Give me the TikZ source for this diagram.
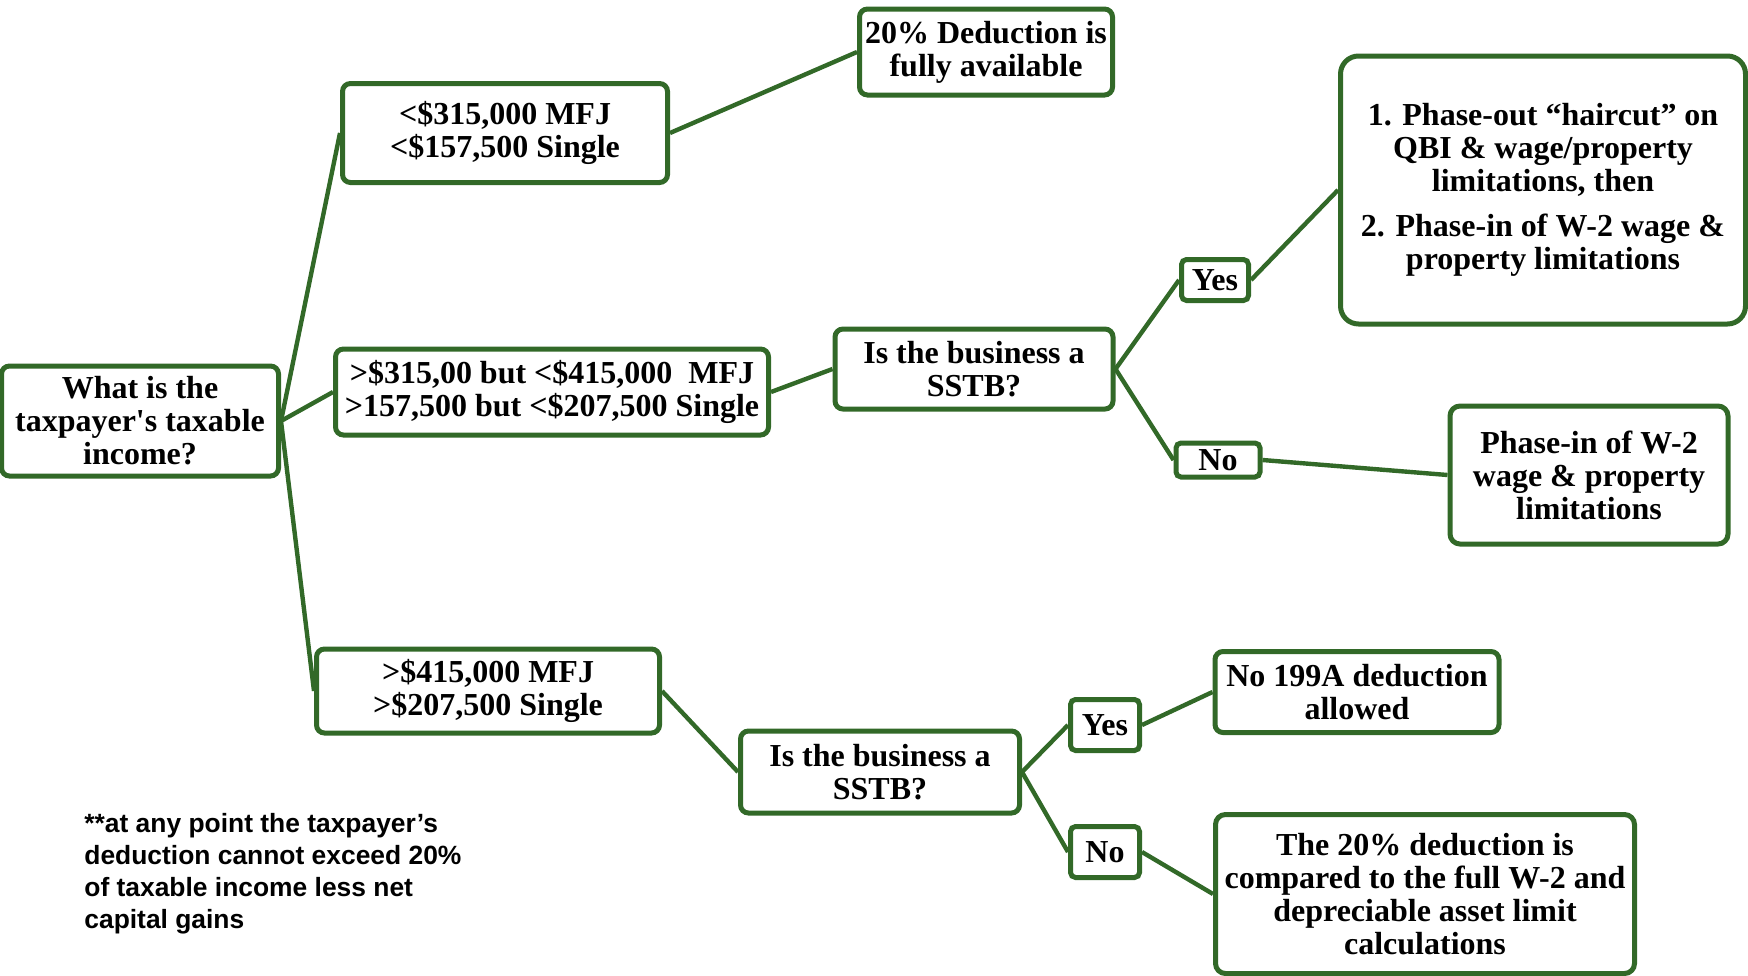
\documentclass[tikz,border=0pt]{standalone}
\usepackage{fontspec}
\setmainfont{Liberation Serif}
\newfontfamily\notefont{Liberation Sans}
\usepackage{xcolor}
\usetikzlibrary{shapes,arrows,positioning,fit}
\definecolor{treegreen}{RGB}{50,105,40}

\begin{document}
\begin{tikzpicture}[x=0.5pt, y=-0.5pt]
    \tikzstyle{box} = [rectangle, rounded corners=4pt, draw=treegreen, line width=2.5pt, fill=white, align=center, inner sep=2pt, font=\fontsize{16}{16.5}\selectfont\bfseries]
    \tikzstyle{answer} = [box, rounded corners=2.5pt]
    \tikzstyle{link} = [treegreen, line width=2.2pt]

    \useasboundingbox (0,0) rectangle (1748,975);

    % Question
    \node [box, minimum width=138.5pt, minimum height=55pt] (question) at (140,421) {What is the\\taxpayer\textquotesingle s taxable\\income?};

    % Income ranges
    \node [box, minimum width=162.5pt, minimum height=49.5pt] (low) at (505,133) {<\$315,000 MFJ\\<\$157,500 Single};
    \node [box, minimum width=216.5pt, minimum height=43pt] (mid) at (552,392) {>\$315,00 but <\$415,000~~MFJ\\>157,500 but <\$207,500 Single};
    \node [box, minimum width=171.5pt, minimum height=42pt] (high) at (488,691) {>\$415,000 MFJ\\>\$207,500 Single};

    % Low income
    \node [box, minimum width=126.5pt, minimum height=43pt] (full) at (986,52) {20\% Deduction is\\fully available};

    % Middle income
    \node [box, minimum width=139pt, minimum height=40pt] (sstbmid) at (974,369) {Is the business a\\SSTB?};
    \node [answer, minimum width=33.5pt, minimum height=20.5pt] (yesmid) at (1215,280) {Yes};
    \node [answer, minimum width=42pt, minimum height=17pt, inner sep=0pt] (nomid) at (1218,460) {No};
    \node [box, minimum width=202.5pt, minimum height=134pt, rounded corners=9pt] (haircut) at (1543,190) {1. Phase-out ``haircut'' on\\QBI \& wage/property\\limitations, then\\[6pt]2. Phase-in of W-2 wage \&\\property limitations};
    \node [box, minimum width=139pt, minimum height=69pt, rounded corners=5pt] (phasein) at (1589,475) {Phase-in of W-2\\wage \& property\\limitations};

    % High income
    \node [box, minimum width=139.5pt, minimum height=41pt] (sstbhigh) at (880,772) {Is the business a\\SSTB?};
    \node [answer, minimum width=34.5pt, minimum height=25.5pt] (yeshigh) at (1105,725) {Yes};
    \node [answer, minimum width=34.5pt, minimum height=25.5pt] (nohigh) at (1105,852) {No};
    \node [box, minimum width=142pt, minimum height=40.5pt] (none) at (1357,692) {No 199A deduction\\allowed};
    \node [box, minimum width=209.5pt, minimum height=79.5pt, rounded corners=5pt] (compared) at (1425,894) {The 20\% deduction is\\compared to the full W-2 and\\depreciable asset limit\\calculations};

    % Note
    \node [anchor=north west, align=left, inner sep=0pt, font=\notefont\fontsize{13.2}{16}\selectfont\bfseries] (note) at (84,813) {**at any point the taxpayer’s\\deduction cannot exceed 20\%\\of taxable income less net\\capital gains};

    % Lines
    \draw [link] (question.east) -- (low.west);
    \draw [link] (question.east) -- (mid.west);
    \draw [link] (question.east) -- (high.west);
    \draw [link] (low.east) -- (full.west);
    \draw [link] (mid.east) -- (sstbmid.west);
    \draw [link] (sstbmid.east) -- (yesmid.west);
    \draw [link] (sstbmid.east) -- (nomid.west);
    \draw [link] (yesmid.east) -- (haircut.west);
    \draw [link] (nomid.east) -- (phasein.west);
    \draw [link] (high.east) -- (sstbhigh.west);
    \draw [link] (sstbhigh.east) -- (yeshigh.west);
    \draw [link] (sstbhigh.east) -- (nohigh.west);
    \draw [link] (yeshigh.east) -- (none.west);
    \draw [link] (nohigh.east) -- (compared.west);
\end{tikzpicture}
\end{document}
